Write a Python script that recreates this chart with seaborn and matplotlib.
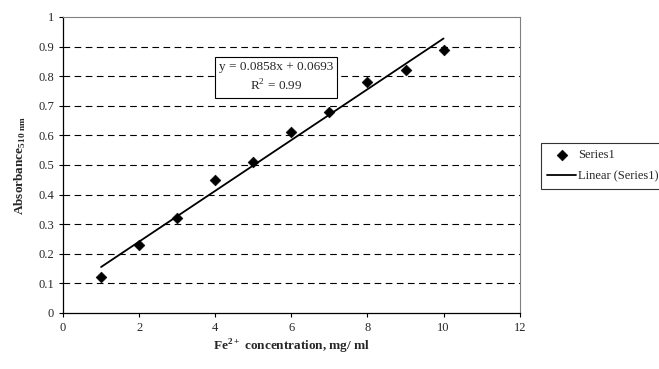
import matplotlib
matplotlib.use("Agg")
import matplotlib.pyplot as plt
import seaborn as sns
import numpy as np
import pandas as pd

concentration = [1, 2, 3, 4, 5, 6, 7, 8, 9, 10]
absorbance = [0.12, 0.23, 0.32, 0.45, 0.51, 0.61, 0.68, 0.78, 0.82, 0.89]
slope = 0.0858
intercept = 0.0693
r_squared = 0.99
x_ticks = [0, 2, 4, 6, 8, 10, 12]
y_ticks = [0, 0.1, 0.2, 0.3, 0.4, 0.5, 0.6, 0.7, 0.8, 0.9, 1]

sns.set_theme(style="white")
plt.rcParams['font.family'] = ['Liberation Serif', 'DejaVu Serif']
plt.rcParams['mathtext.fontset'] = 'custom'
plt.rcParams['mathtext.rm'] = 'Liberation Serif'
plt.rcParams['mathtext.bf'] = 'Liberation Serif:bold'

df = pd.DataFrame({"x": concentration, "y": absorbance})
fit = pd.DataFrame({"x": [concentration[0], concentration[-1]]})
fit["y"] = slope * fit["x"] + intercept

fig = plt.figure(figsize=(6.59, 3.69), dpi=100)
ax = fig.add_axes([0.0956, 0.152, 0.693, 0.802])

for yv in y_ticks[1:-1]:
    ax.axhline(yv, color="black", lw=0.8, ls=(0, (6, 4)), zorder=0)

sns.lineplot(data=fit, x="x", y="y", ax=ax, color="black", lw=1.3,
             label="Linear (Series1)", zorder=2)
sns.scatterplot(data=df, x="x", y="y", ax=ax, marker="D", s=30, color="black",
                edgecolor="black", label="Series1", zorder=3)

handles, labels = ax.get_legend_handles_labels()
if ax.get_legend() is not None:
    ax.get_legend().remove()

ax.set_xlim(0, 12)
ax.set_ylim(0, 1)
ax.set_xticks(x_ticks)
ax.set_yticks(y_ticks)
ax.set_xticklabels([str(v) for v in x_ticks])
ax.set_yticklabels(["0" if v == 0 else ("1" if v == 1 else f"{v:.1f}") for v in y_ticks])
ax.tick_params(axis="both", which="both", labelsize=9, length=3, width=0.8,
               direction="out", color="black", bottom=True, left=True)
for side in ["top", "right"]:
    ax.spines[side].set_color("#808080")
    ax.spines[side].set_linewidth(0.8)
for side in ["left", "bottom"]:
    ax.spines[side].set_color("black")
    ax.spines[side].set_linewidth(0.9)

ax.set_xlabel(r"Fe$^{\mathbf{2+}}$ concentration, mg/ ml", fontsize=9.5, fontweight="bold", labelpad=3)
ax.set_ylabel(r"Absorbance$_{\mathbf{510\ nm}}$", fontsize=9.5, fontweight="bold", labelpad=7)

ax.text(5.6, 0.795, f"y = {slope}x + {intercept}\nR$^2$ = {r_squared}",
        ha="center", va="center", fontsize=9.5, linespacing=1.45,
        bbox=dict(boxstyle="square,pad=0.3", fc="white", ec="black", lw=0.8), zorder=4)

order = [labels.index("Series1"), labels.index("Linear (Series1)")]
leg = fig.legend([handles[i] for i in order], [labels[i] for i in order],
                 loc="upper left", bbox_to_anchor=(541 / 659, 1 - 143 / 369),
                 bbox_transform=fig.transFigure, fontsize=9,
                 frameon=True, fancybox=False, edgecolor="black", borderpad=0.5,
                 borderaxespad=0, handlelength=2.3, handletextpad=0.2, labelspacing=0.75)
leg.get_frame().set_linewidth(0.8)

fig.savefig("out.png", dpi=100)
